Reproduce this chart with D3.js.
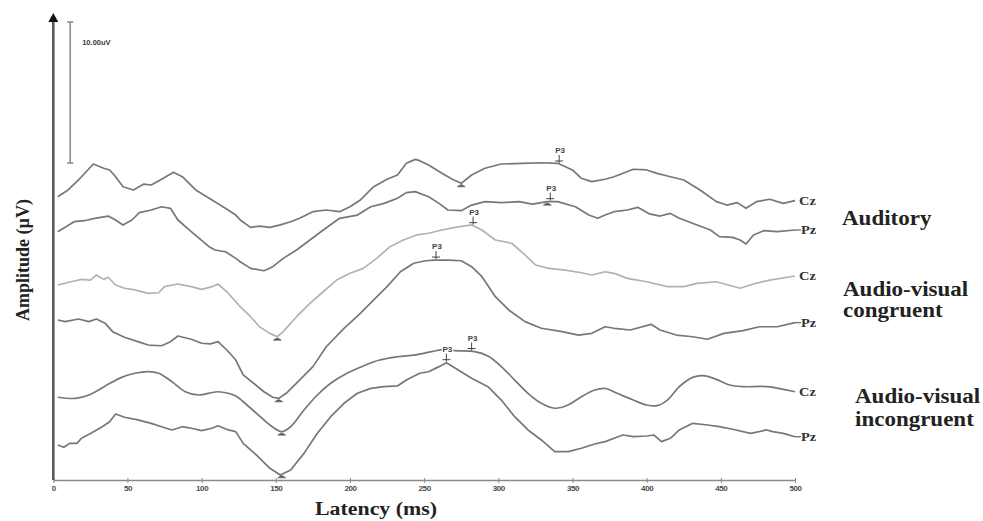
<!DOCTYPE html>
<html>
<head>
<meta charset="utf-8">
<script src="https://cdn.jsdelivr.net/npm/d3@7"></script>
<style>
  html, body { margin: 0; padding: 0; background: #fff; }
  svg { display: block; }
</style>
</head>
<body>
<svg id="chart" width="983" height="521"></svg>
<script>
// Grand-average ERP waveforms, [latency ms, amplitude µV]
const auditoryCz = [[3,-0.41],[10,0.07],[17,0.78],[27,1.91],[34,1.61],[38,1.49],[42,1.01],[47,0.30],[54,0.07],[61,0.49],[66,0.42],[73,0.83],[81,1.32],[87,1.01],[96,0.07],[107,-0.64],[116,-1.23],[123,-1.71],[126,-2.06],[133,-2.58],[139,-2.49],[146,-2.58],[153,-2.41],[160,-2.18],[166,-1.94],[175,-1.47],[184,-1.35],[193,-1.47],[200,-1.12],[207,-0.64],[216,0.30],[225,0.83],[232,1.13],[238,1.96],[244,2.24],[247,2.15],[253,1.84],[262,1.25],[269,0.83],[275,0.54],[282,1.13],[291,1.61],[302,1.91],[316,1.96],[329,2.00],[340,1.96],[350,1.49],[356,0.90],[363,0.66],[372,0.83],[378,1.01],[391,1.54],[400,1.49],[407,1.25],[414,1.06],[425,0.78],[436,0.07],[447,-0.76],[454,-1.00],[461,-0.83],[467,-1.23],[474,-0.76],[483,-0.59],[492,-0.88],[500,-0.69]];
const auditoryPz = [[3,-0.39],[8,-0.08],[14,0.32],[21,0.39],[28,0.56],[37,0.72],[42,0.44],[47,0.09],[53,0.44],[58,0.96],[66,1.15],[73,1.38],[79,1.27],[84,0.44],[93,-0.39],[105,-1.45],[109,-1.69],[116,-1.81],[123,-2.28],[126,-2.52],[133,-2.99],[142,-3.16],[148,-2.87],[155,-2.28],[164,-1.69],[173,-0.98],[182,-0.27],[193,0.56],[205,0.79],[214,1.38],[223,1.62],[232,1.98],[238,2.38],[244,2.45],[253,2.09],[260,1.62],[266,1.15],[275,1.10],[282,1.50],[291,1.74],[302,1.67],[314,1.74],[323,1.57],[333,1.74],[340,1.74],[352,1.38],[361,0.79],[367,0.56],[372,0.79],[378,1.03],[387,1.15],[394,1.34],[402,0.87],[409,0.72],[416,0.91],[422,0.56],[434,0.09],[443,-0.27],[449,-0.74],[458,-0.79],[463,-0.98],[467,-1.26],[472,-0.62],[479,-0.32],[488,-0.39],[500,-0.27]];
const congruentCz = [[3,-0.17],[12,0.06],[19,0.23],[25,0.18],[29,0.54],[34,0.23],[37,0.38],[42,-0.17],[48,-0.40],[55,-0.52],[64,-0.76],[71,-0.72],[75,-0.29],[84,-0.10],[93,-0.29],[100,-0.48],[107,-0.29],[111,-0.10],[117,-0.65],[123,-1.35],[126,-1.71],[133,-2.42],[139,-3.13],[146,-3.60],[151,-3.84],[155,-3.48],[164,-2.42],[173,-1.47],[182,-0.65],[191,0.18],[200,0.66],[209,1.01],[218,1.72],[227,2.55],[236,3.02],[245,3.38],[253,3.50],[262,3.73],[271,3.92],[282,4.09],[289,3.73],[298,3.02],[309,2.79],[318,1.96],[325,1.25],[334,1.01],[345,0.89],[356,0.70],[363,0.54],[372,0.77],[378,0.66],[387,0.30],[400,0.06],[414,-0.29],[425,-0.29],[434,-0.05],[447,0.06],[463,-0.40],[472,-0.10],[483,0.18],[500,0.47]];
const congruentPz = [[3,0.35],[8,0.23],[17,0.42],[24,0.23],[29,0.42],[35,0.11],[40,-0.48],[48,-0.88],[57,-1.19],[64,-1.43],[73,-1.48],[79,-1.19],[84,-0.79],[93,-1.02],[100,-1.30],[106,-1.35],[111,-1.19],[117,-1.78],[123,-2.49],[128,-3.55],[135,-4.14],[142,-4.74],[148,-5.13],[152,-5.21],[157,-4.85],[166,-3.91],[175,-2.96],[184,-1.55],[196,-0.24],[207,0.82],[216,1.77],[225,2.71],[234,3.77],[243,4.37],[251,4.55],[257,4.60],[266,4.60],[275,4.55],[282,4.13],[289,3.42],[298,2.00],[307,1.06],[318,0.23],[329,-0.24],[343,-0.48],[354,-0.72],[363,-0.60],[372,-0.13],[378,-0.24],[389,-0.36],[403,0.04],[409,-0.36],[420,-0.72],[431,-0.84],[441,-1.02],[452,-0.60],[465,-0.41],[476,-0.13],[488,-0.13],[500,0.16]];
const incongruentCz = [[3,-0.13],[15,-0.21],[24,0.03],[35,0.67],[46,1.28],[55,1.57],[64,1.68],[71,1.57],[80,0.97],[89,0.26],[98,0.03],[111,0.26],[123,-0.04],[128,-0.45],[137,-1.27],[146,-2.10],[154,-2.57],[160,-2.22],[169,-1.04],[178,0.03],[187,0.86],[198,1.57],[209,2.09],[220,2.51],[232,2.74],[244,2.87],[255,3.10],[264,3.27],[271,3.17],[284,3.10],[293,2.79],[302,2.04],[311,1.09],[320,0.15],[329,-0.56],[338,-0.91],[347,-0.68],[356,-0.09],[365,0.38],[372,0.50],[380,0.15],[391,-0.33],[400,-0.68],[407,-0.73],[414,-0.33],[422,0.62],[431,1.28],[438,1.40],[447,1.14],[456,0.74],[465,0.62],[481,0.62],[500,0.26]];
const incongruentPz = [[3,-0.52],[7,-0.68],[11,-0.40],[16,-0.40],[19,-0.04],[26,0.35],[33,0.78],[38,1.13],[42,1.68],[48,1.45],[57,1.26],[66,1.02],[73,0.78],[80,0.55],[87,0.78],[93,0.67],[100,0.50],[107,0.67],[111,0.85],[118,0.55],[123,0.43],[128,-0.40],[137,-1.23],[146,-2.17],[153,-2.65],[160,-2.29],[169,-1.11],[178,0.31],[187,1.49],[196,2.44],[205,3.15],[214,3.50],[223,3.62],[232,3.67],[238,4.09],[247,4.57],[253,4.68],[260,5.04],[265,5.32],[273,4.80],[282,4.21],[293,3.62],[302,2.67],[311,1.49],[320,0.55],[329,-0.16],[338,-0.99],[347,-0.99],[356,-0.75],[365,-0.45],[372,-0.28],[378,-0.04],[384,0.19],[391,0.07],[400,0.12],[405,0.19],[410,-0.28],[416,-0.04],[422,0.55],[431,1.02],[441,0.90],[449,0.78],[458,0.60],[470,0.31],[481,0.55],[485,0.43],[492,0.31],[500,0.07]];

const waveforms = [auditoryCz, auditoryPz, congruentCz, congruentPz, incongruentCz, incongruentPz];
const electrodes = ["Cz", "Pz", "Cz", "Pz", "Cz", "Pz"];
// vertical stacking of the six waveforms (µV)
const stackOffsets = [20.5, 18, 14, 11, 6, 3];
const smoothTrace = [false, false, false, false, true, false];
const traceColors = ["#777", "#777", "#b2b2b2", "#777", "#777", "#777"];

// P3 peak latencies and N1/N2 trough latencies per waveform (ms)
const p3Latency = [341, 335, 283, 258, 282, 265];
const troughLatency = [275, 333, 151, 152, 154, 154];

const conditionLabels = [["Auditory"], ["Audio-visual", "congruent"], ["Audio-visual", "incongruent"]];
const xTicks = [0, 50, 100, 150, 200, 250, 300, 350, 400, 450, 500];
const scaleBarUV = 10;

const svg = d3.select("#chart");
const x = d3.scaleLinear().domain([0, 500]).range([53.3, 795]);
const y = d3.scaleLinear().domain([0, 33.05]).range([480, 14]);

function valueAt(series, t) {
  const i = d3.bisector(d => d[0]).left(series, t);
  if (i <= 0) return series[0][1];
  if (i >= series.length) return series[series.length - 1][1];
  const a = series[i - 1], b = series[i];
  return a[1] + (b[1] - a[1]) * (t - a[0]) / (b[0] - a[0]);
}

// x axis
const xAxis = d3.axisBottom(x).tickValues(xTicks).tickSize(3).tickSizeOuter(0).tickPadding(2);
const gx = svg.append("g").attr("transform", "translate(0,480)").call(xAxis);
gx.select(".domain").attr("stroke", "#8a8a8a").attr("stroke-width", 1.6);
gx.selectAll(".tick line").attr("stroke", "#8a8a8a").attr("y1", -2);
gx.selectAll(".tick text")
  .attr("fill", "#4a4a4a")
  .attr("font-family", "Liberation Sans, Arial, sans-serif")
  .attr("font-weight", "bold")
  .attr("font-size", 8)
  .attr("letter-spacing", -0.4);

// y axis with arrow head
svg.append("line")
  .attr("x1", x(0)).attr("x2", x(0))
  .attr("y1", y(0)).attr("y2", y.range()[1] + 6)
  .attr("stroke", "#5a5a5a").attr("stroke-width", 2.6);
svg.append("path")
  .attr("d", d3.line()([[x(0) - 5, y.range()[1] + 8], [x(0), y.range()[1] - 1], [x(0) + 5, y.range()[1] + 8]]) + "Z")
  .attr("fill", "#111");

// amplitude scale bar
const barX = x(11.4), barBottom = y(22.48), barTop = y(22.48 + scaleBarUV);
const bar = svg.append("g").attr("stroke", "#8c8c8c").attr("stroke-width", 1.6);
bar.append("line").attr("x1", barX).attr("x2", barX).attr("y1", barBottom).attr("y2", barTop);
bar.append("line").attr("x1", barX - 3).attr("x2", barX + 3).attr("y1", barTop).attr("y2", barTop);
bar.append("line").attr("x1", barX - 3).attr("x2", barX + 3).attr("y1", barBottom).attr("y2", barBottom);
svg.append("text")
  .attr("x", barX + 12).attr("y", barTop + 23)
  .attr("font-family", "Liberation Sans, Arial, sans-serif")
  .attr("font-weight", "bold").attr("font-size", 7.5)
  .attr("fill", "#3a3a3a")
  .text(scaleBarUV.toFixed(2) + "uV");

// waveforms
waveforms.forEach((series, k) => {
  const line = d3.line()
    .x(d => x(d[0]))
    .y(d => y(stackOffsets[k] + d[1]))
    .curve(smoothTrace[k] ? d3.curveCatmullRom.alpha(0.5) : d3.curveLinear);
  svg.append("path")
    .datum(series)
    .attr("d", line)
    .attr("fill", "none")
    .attr("stroke", traceColors[k])
    .attr("stroke-width", 1.7)
    .attr("stroke-linejoin", "round");
});

// trough markers
troughLatency.forEach((t, k) => {
  const px = x(t), py = y(stackOffsets[k] + valueAt(waveforms[k], t));
  svg.append("path")
    .attr("d", `M${px - 4},${py + 3.5}L${px + 4},${py + 3.5}L${px + 1},${py + 1.5}L${px - 1},${py + 1.5}Z`)
    .attr("fill", "#5a5a5a").attr("stroke", "#5a5a5a").attr("stroke-width", 0.6);
});

// P3 markers with labels
p3Latency.forEach((t, k) => {
  const px = x(t), py = y(stackOffsets[k] + valueAt(waveforms[k], t));
  const g = svg.append("g");
  g.append("line").attr("x1", px).attr("x2", px).attr("y1", py - 9).attr("y2", py - 1)
    .attr("stroke", "#444").attr("stroke-width", 1);
  g.append("line").attr("x1", px - 4).attr("x2", px + 4).attr("y1", py - 3).attr("y2", py - 3)
    .attr("stroke", "#444").attr("stroke-width", 1);
  g.append("text")
    .attr("x", px + 1).attr("y", py - 11)
    .attr("text-anchor", "middle")
    .attr("font-family", "Liberation Sans, Arial, sans-serif")
    .attr("font-weight", "bold").attr("font-size", 8)
    .attr("fill", "#444")
    .attr("stroke", "#fff").attr("stroke-width", 2.5).attr("paint-order", "stroke")
    .text("P3");
});

// electrode labels at the end of each waveform
const serif = "Liberation Serif, Times New Roman, serif";
waveforms.forEach((series, k) => {
  const last = series[series.length - 1];
  const px = x(last[0]), py = y(stackOffsets[k] + last[1]);
  if (electrodes[k] === "Pz") {
    svg.append("line").attr("x1", px).attr("x2", px + 6).attr("y1", py).attr("y2", py)
      .attr("stroke", traceColors[k]).attr("stroke-width", 1.4);
  }
  svg.append("text")
    .attr("transform", `translate(${px + (electrodes[k] === "Pz" ? 6 : 4)},${py + 4}) scale(1.2,1)`)
    .attr("font-family", serif).attr("font-weight", "bold").attr("font-size", 12)
    .attr("fill", "#333")
    .text(electrodes[k]);
});

// condition labels
const labelAnchors = [[842, [225]], [843, [296, 317]], [855, [403, 426]]];
conditionLabels.forEach((lines, i) => {
  lines.forEach((s, j) => {
    svg.append("text")
      .attr("transform", `translate(${labelAnchors[i][0]},${labelAnchors[i][1][j]}) scale(1.15,1)`)
      .attr("font-family", serif).attr("font-weight", "bold").attr("font-size", 20)
      .attr("fill", "#222")
      .text(s);
  });
});

// axis titles
svg.append("text")
  .attr("transform", `translate(376,515) scale(1.15,1)`)
  .attr("text-anchor", "middle")
  .attr("font-family", serif).attr("font-weight", "bold").attr("font-size", 19)
  .attr("fill", "#222")
  .text("Latency (ms)");
svg.append("text")
  .attr("transform", `translate(29,260) rotate(-90)`)
  .attr("text-anchor", "middle")
  .attr("font-family", serif).attr("font-weight", "bold").attr("font-size", 18)
  .attr("fill", "#222")
  .text("Amplitude (µV)");
</script>
</body>
</html>
